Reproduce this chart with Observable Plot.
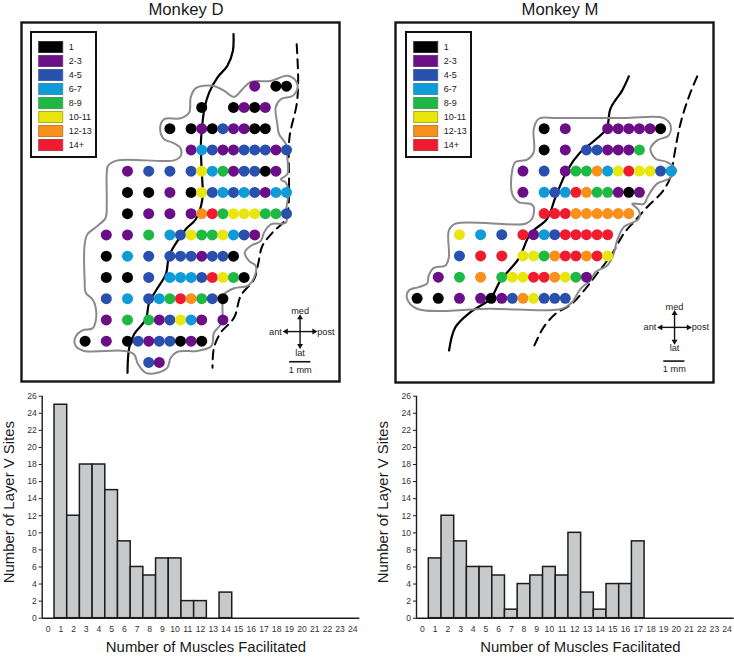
<!DOCTYPE html>
<html><head><meta charset="utf-8">
<script src="https://cdn.jsdelivr.net/npm/d3@7"></script>
<script src="https://cdn.jsdelivr.net/npm/@observablehq/plot@0.6"></script>
<style>
html,body{margin:0;padding:0;background:#fff}
#page{position:relative;width:734px;height:658px;overflow:hidden;font-family:"Liberation Sans",Arial,sans-serif}
#page svg{position:absolute;display:block;overflow:visible;background:transparent}
.ttl{position:absolute;top:0px;font-size:16.7px;color:#1a1a1a;transform:translateX(-50%);white-space:nowrap}
</style></head><body><div id="page"></div>
<script>
const classes = ["1","2-3","4-5","6-7","8-9","10-11","12-13","14+"];
const classColors = ["#000000","#6a0f86","#2a50ad","#0f9bd8","#1fb845","#e9e60d","#f8911b","#ef1c30"];
const classStroke = ["#333333","#6b3a80","#47609f","#3e90b8","#45a05c","#b0ae20","#b98030","#b83a45"];
const codes = "KPBCGYOR";

// one string per row (1 mm apart); each character is a 0.5 mm column
const rowsD = [
"................P.KK",
"...........K..KPKP..",
"........K.KPKBPPKK..",
"..........PCBPPBBBPB",
"....P.B.B.BYCGPBBKP.",
"....K.K.P.KYBCBCBPCC",
"....K.P.P.PORGYYYGGB",
"..P.P.G.CBYGGYCBP...",
"..K.C.B.BBBPBBK.....",
"..K.K.B.CCCBRYGK....",
"..B.C.BCGROGBK......",
"..P.G.GPBYCP.P......",
"K.P.KBPBBKPK........",
"......BP............"];
const rowsM = [
"............K.P...PPPPPK.",
"............K.P.BBPPPG...",
"..........P.B.PGGOCYRYYBC",
"..........P.CBCROGGPKP...",
"............RRROOOOOO....",
"....Y.C.B.RPCBRRRRR......",
"....B.R.R.YYGORRORY......",
"..P.G.O.GYYRROYGP........",
"K.K.P.PKPBOYBBB.........."];

// map traces, in mm on the same grid as the sites
const outlineD = [[4.98,.53],[5.22,.09],[6.01,-.02],[6.56,.22],[7.03,.5],[7.42,.14],[7.81,-.2],[8.76,-.25],[9.54,-.49],[9.94,-.25],[10.02,.09],[9.78,.46],[9.23,.61],[8.99,1],[9.07,1.79],[9.15,2.26],[9.47,2.73],[9.54,3.36],[9.54,4.14],[9.23,4.38],[9.47,4.54],[9.59,4.93],[9.5,5.71],[9.47,6.42],[8.76,6.5],[8.44,6.89],[8.29,7.28],[7.81,7.52],[7.53,7.83],[7.74,8.23],[8.05,8.46],[7.97,9.01],[7.66,9.4],[7.03,9.51],[6.56,9.8],[6.48,10.27],[6.48,10.82],[6.4,11.21],[6.08,11.6],[5.96,12.23],[5.3,12.46],[4.36,12.5],[4.04,12.78],[3.88,13.25],[3.41,13.49],[2.86,13.49],[2.5,13.09],[2.31,12.62],[1.84,12.46],[-.05,12.46],[-.44,12.23],[-.47,11.84],[-.13,11.49],[.35,11.4],[.5,11.05],[.5,10.42],[.35,10.03],[.03,9.72],[-.02,9.17],[-.02,7.44],[.11,6.97],[.58,6.58],[.97,6.19],[1.02,5.56],[1.02,4.14],[1.08,3.75],[1.53,3.49],[4.2,3.49],[4.51,3.28],[4.48,2.89],[4.12,2.65],[3.73,2.5],[3.54,2.03],[3.73,1.55],[4.51,1.51],[4.91,1.24]];
const sulcusD = [[7,-2.45],[6.97,-1.66],[6.71,-.96],[6.24,-.41],[5.85,.3],[5.64,1],[5.53,1.79],[5.46,2.73],[5.49,3.83],[5.53,5.32],[5.22,6.26],[4.75,6.73],[4.36,7.28],[3.96,7.99],[3.81,8.85],[3.33,9.64],[3.02,10.19],[2.86,10.97],[2.31,11.68],[2.08,12.31],[2,13.49]];
const dashedD = [[9.98,-1.98],[10.05,-.25],[9.98,.85],[9.64,2.42],[9.62,4.62],[9.59,5.71],[9.47,6.26],[8.84,6.89],[8.36,7.52],[8.16,8.38],[7.97,9.09],[7.34,9.87],[7.03,10.89],[6.4,11.6],[6.08,12.31],[6.01,13.25]];
const outlineM = [[5.51,0],[5.75,-.47],[6.61,-.5],[9.76,-.5],[11.65,-.5],[11.97,-.16],[11.89,.31],[11.34,.55],[11.02,.94],[11.26,1.42],[11.81,1.57],[12.25,1.97],[11.89,2.36],[11.34,2.59],[11.02,2.99],[10.87,3.25],[10.71,3.54],[10.16,3.54],[10.47,3.85],[10.47,4.25],[9.76,4.64],[9.45,5.27],[9.26,5.97],[8.98,6.45],[8.43,6.76],[8.19,7.15],[7.72,7.55],[7.32,8.18],[6.85,8.49],[3.46,8.49],[0,8.49],[-.47,8.02],[-.39,7.63],[.08,7.47],[.47,7.31],[.55,6.92],[.79,6.56],[1.34,6.45],[1.5,6.05],[1.5,4.8],[1.81,4.48],[5.12,4.48],[5.43,4.25],[5.51,3.69],[5.35,3.54],[4.8,3.46],[4.49,3.07],[4.49,1.97],[4.65,1.57],[5.2,1.46],[5.51,1.1]];
const sulcusM = [[10,-2.47],[9.69,-1.81],[9.13,-.94],[8.98,-.08],[8.74,.24],[8.19,.71],[7.72,1.1],[7.09,1.97],[6.54,3.22],[6.14,4.25],[5.35,4.95],[4.8,6.13],[3.94,7.15],[3.46,8.02],[2.52,8.65],[1.81,9.36],[1.51,10.46]];
const dashedM = [[13.23,-2.47],[12.83,-1.49],[12.44,-.24],[12.13,1.34],[11.97,2.28],[11.57,2.99],[10.87,3.69],[10.31,4.32],[9.76,4.95],[9.21,5.9],[8.5,6.84],[7.95,7.55],[7.32,8.25],[6.54,8.73],[5.98,9.36],[5.54,10.22]];

const muscleBins = d3.range(0,25);
const countsD = [0,25,12,18,18,15,9,6,5,7,7,2,2,0,3,0,0,0,0,0,0,0,0,0,0];
const countsM = [0,7,12,9,6,6,5,1,4,5,6,5,10,3,1,4,4,9,0,0,0,0,0,0,0];
const yTicks = d3.range(0,27,2);

const page = document.getElementById("page");
const FONT = '"Liberation Sans",Arial,sans-serif';
function place(svg,left,top){svg.style.left=left+"px";svg.style.top=top+"px";page.appendChild(svg);return svg;}
function sites(rows){
  const out=[];
  rows.forEach((s,k)=>[...s].forEach((c,j)=>{ if(c!==".") out.push({x:j/2,y:k,cls:classes[codes.indexOf(c)]}); }));
  return out;
}
const colorScale={type:"ordinal",domain:classes,range:classColors};

function mapPanel(o){
  const W=o.w,H=o.h,[cx,cy]=o.compass,[bx,by]=o.bar;
  const arm=.66;
  const arms=[[0,-arm,0],[0,arm,180],[-arm,0,-90],[arm,0,90]].map(([dx,dy,rot])=>({x1:cx,y1:cy,x2:cx+dx,y2:cy+dy,rot}));
  const labels=[
    {t:"med",x:cx,y:cy-.96},{t:"lat",x:cx,y:cy+.99},
    {t:"ant",x:cx-1.16,y:cy},{t:"post",x:cx+1.22,y:cy},
    {t:"1 mm",x:bx+.5,y:by+.37}];
  const svg=Plot.plot({
    width:W+4,height:H+4,margin:2,
    x:{domain:o.xd,axis:null},y:{domain:o.yd,axis:null},
    color:colorScale,
    style:{fontFamily:FONT,background:"transparent"},
    marks:[
      Plot.frame({stroke:"#161616",strokeWidth:2.4}),
      Plot.line(o.sulcus,{x:"0",y:"1",curve:"catmull-rom",stroke:"#000",strokeWidth:2.2}),
      Plot.line(o.dashed,{x:"0",y:"1",curve:"catmull-rom",stroke:"#000",strokeWidth:2,strokeDasharray:"9,6"}),
      Plot.line(o.outline,{x:"0",y:"1",curve:"catmull-rom-closed",stroke:"#8a8a8a",strokeWidth:2}),
      Plot.dot(sites(o.rows),{x:"x",y:"y",fill:"cls",r:5.5,stroke:null}),
      Plot.link(arms,{x1:"x1",y1:"y1",x2:"x2",y2:"y2",stroke:"#111",strokeWidth:1.4}),
      Plot.dot(arms,{x:"x2",y:"y2",rotate:"rot",symbol:"triangle",r:2.2,fill:"#111",stroke:null}),
      Plot.ruleY([by],{x1:bx,x2:bx+1,stroke:"#111",strokeWidth:1.6}),
      Plot.text(labels,{x:"x",y:"y",text:"t",fontSize:9.2,fill:"#222"})
    ]});
  place(svg,o.left-2,o.top-2);
}
function legend(left,top){
  const svg=Plot.plot({
    width:65,height:125,marginLeft:7.7,marginRight:33.3,marginTop:8,marginBottom:5,
    x:{domain:[0,1],axis:null},y:{domain:classes,padding:0,axis:null},color:colorScale,
    style:{fontFamily:FONT,background:"#fff"},
    marks:[
      Plot.barX(classes,{x1:0,x2:1,y:d=>d,fill:d=>d,stroke:(d,i)=>classStroke[i],strokeWidth:1,insetTop:1.5,insetBottom:1.5}),
      Plot.text(classes,{x:1,y:d=>d,text:d=>d,textAnchor:"start",dx:5.5,fontSize:9,fill:"#222"})
    ]});
  svg.style.outline="2px solid #111";svg.style.outlineOffset="-1px";
  place(svg,left,top);
}
function hist(o){
  const data=muscleBins.map((b,i)=>({b,n:o.counts[i]})).filter(d=>d.n>0);
  const svg=Plot.plot({
    width:367,height:273,marginLeft:o.ml,marginRight:o.mr,marginTop:10.7,marginBottom:40.3,
    x:{domain:o.xd},y:{domain:[0,26]},
    style:{fontFamily:FONT,background:"transparent"},
    marks:[
      Plot.rect(data,{x1:d=>d.b-.5,x2:d=>d.b+.5,y1:0,y2:"n",fill:"#c8c9cb",stroke:"#1c1c1c",strokeWidth:1.5}),
      Plot.ruleY([0],{stroke:"#1c1c1c",strokeWidth:1.4}),
      Plot.ruleX([o.xd[0]],{stroke:"#1c1c1c",strokeWidth:1.4}),
      Plot.axisY({ticks:yTicks,tickSize:3,tickPadding:2.5,tickFormat:d=>d,fontSize:8.6,color:"#333",stroke:"#1c1c1c",label:null}),
      Plot.axisX({ticks:muscleBins,tickSize:0,tickPadding:8,tickFormat:d=>d,fontSize:8.6,color:"#333",label:null}),
      Plot.text(["Number of Muscles Facilitated"],{frameAnchor:"bottom",dy:o.xlabelDy,dx:o.xlabelDx,fontSize:14.9,fill:"#1a1a1a"}),
      Plot.text(["Number of Layer V Sites"],{frameAnchor:"left",textAnchor:"middle",rotate:-90,dx:o.ylabelDx,dy:o.ylabelDy,fontSize:14.9,fill:"#1a1a1a"})
    ]});
  place(svg,o.left,385);
}
function title(t,x){const d=document.createElement("div");d.className="ttl";d.textContent=t;d.style.left=x+"px";page.appendChild(d);}

title("Monkey D",186);
title("Monkey M",560);
mapPanel({left:21,top:22,w:318,h:359,xd:[-3,12],yd:[13.9,-3],rows:rowsD,outline:outlineD,sulcus:sulcusD,dashed:dashedD,compass:[10.14,11.55],bar:[9.65,12.97]});
mapPanel({left:395,top:22,w:318,h:360,xd:[-1.02,14],yd:[11.97,-5.01],rows:rowsM,outline:outlineM,sulcus:sulcusM,dashed:dashedM,compass:[12.16,9.37],bar:[11.65,10.96]});
legend(31,32);
legend(405.7,32);
hist({left:0,counts:countsD,ml:41.7,mr:7.7,xd:[-.47,24.55],xlabelDy:34,xlabelDx:5,ylabelDx:-33,ylabelDy:-5});
hist({left:367,counts:countsM,ml:49,mr:.3,xd:[-.47,24.56],xlabelDy:34,xlabelDx:5,ylabelDx:-33,ylabelDy:-5});
</script></body></html>
